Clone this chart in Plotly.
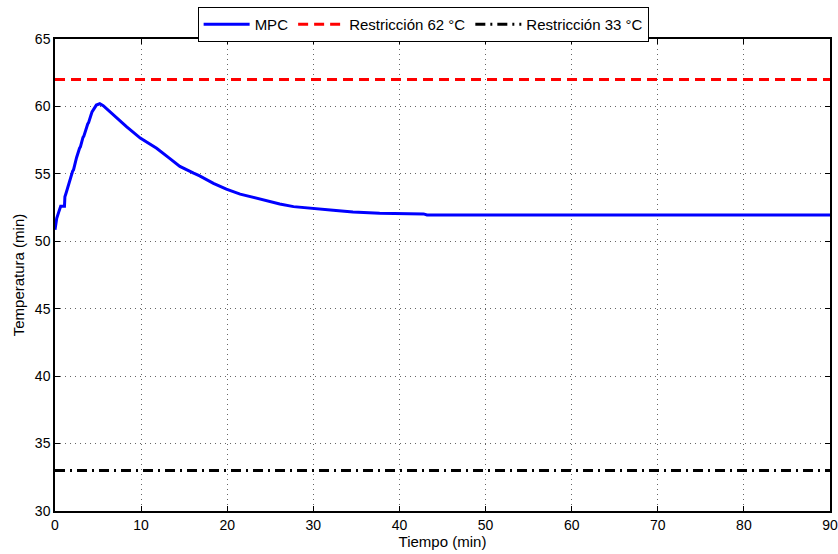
import plotly.graph_objects as go

# MPC temperature trajectory
t_mpc = [0.0, 0.1, 0.2, 0.45, 0.66, 1.1, 1.15, 1.3, 1.6, 1.7, 2.05, 2.15, 2.4, 2.5, 2.85, 2.95,
         3.25, 3.35, 3.8, 3.9, 4.2, 4.3, 4.8, 5.2, 5.6, 6.8, 8.3, 9.9, 11.8, 13.2, 14.5, 16.1,
         16.8, 18.4, 19.9, 21.5, 23.0, 24.6, 26.1, 27.7, 30.0, 32.3, 34.6, 37.7, 42.8, 43.2,
         60.0, 75.0, 90.0]
y_mpc = [50.85, 51.2, 51.7, 52.2, 52.6, 52.6, 53.3, 53.6, 54.3, 54.4, 55.2, 55.3, 56.1, 56.2,
         56.9, 57.0, 57.7, 57.8, 58.7, 58.8, 59.4, 59.6, 60.1, 60.2, 60.05, 59.35, 58.5, 57.65,
         56.9, 56.2, 55.55, 55.05, 54.85, 54.3, 53.86, 53.5, 53.26, 52.97, 52.77, 52.57, 52.42,
         52.3, 52.18, 52.08, 52.03, 51.95, 51.95, 51.95, 51.95]

t_lim = [0, 90]
upper_lim = [62, 62]
lower_lim = [33, 33]

x_ticks = [0, 10, 20, 30, 40, 50, 60, 70, 80, 90]
y_ticks = [30, 35, 40, 45, 50, 55, 60, 65]

FONT = "Liberation Sans, Arial, sans-serif"

fig = go.Figure()
fig.add_trace(go.Scatter(x=t_mpc, y=y_mpc, mode="lines", name="MPC",
                         line=dict(color="#0000ff", width=3)))
fig.add_trace(go.Scatter(x=t_lim, y=upper_lim, mode="lines", name="Restricción 62 °C",
                         line=dict(color="#ff0000", width=3, dash="10px,6px")))
fig.add_trace(go.Scatter(x=t_lim, y=lower_lim, mode="lines", name="Restricción 33 °C",
                         line=dict(color="#000000", width=3, dash="10px,5px,2px,5px")))

axis_common = dict(
    showline=True, linecolor="black", linewidth=1.5, mirror="allticks",
    ticks="inside", ticklen=5, tickcolor="black", tickwidth=1,
    showgrid=True, gridcolor="#666666", griddash="1px,4px", gridwidth=1,
    zeroline=False, automargin=False, ticklabeloverflow="allow",
    tickfont=dict(family=FONT, size=14, color="black"),
)

fig.update_xaxes(range=[0, 90], tickvals=x_ticks, title=dict(text="Tiempo (min)", standoff=1,
                 font=dict(family=FONT, size=15, color="black")), **axis_common)
fig.update_yaxes(range=[30, 65], tickvals=y_ticks, title=dict(text="Temperatura (min)", standoff=7,
                 font=dict(family=FONT, size=15, color="black")), **axis_common)

fig.update_layout(
    width=838, height=554,
    margin=dict(l=55, r=8, t=39, b=43, autoexpand=False),
    paper_bgcolor="white", plot_bgcolor="white",
    font=dict(family=FONT, size=14, color="black"),
    showlegend=True,
    legend=dict(orientation="h", x=0.475, xanchor="center", y=1.0678, yanchor="top",
                bordercolor="black", borderwidth=1, bgcolor="white",
                font=dict(family=FONT, size=15, color="black"),
                itemwidth=46, tracegroupgap=0),
)

fig.write_html("out.html", config={"displayModeBar": False},
               post_script="document.body.style.margin='0';document.body.style.overflow='hidden';")
